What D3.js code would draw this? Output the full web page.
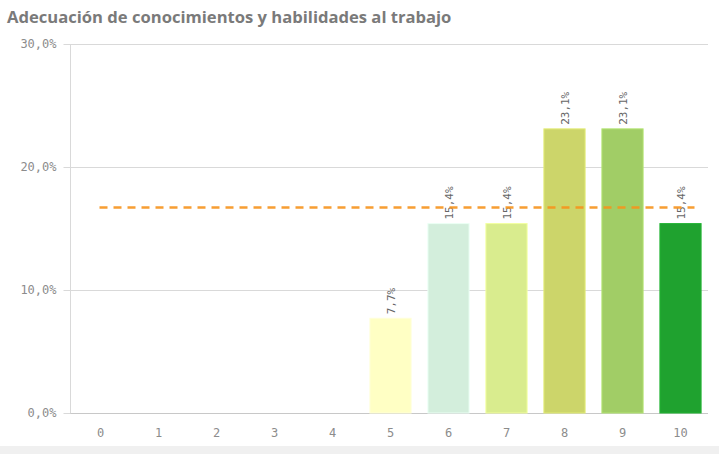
<!DOCTYPE html>
<html>
<head>
<meta charset="utf-8">
<script src="https://cdn.jsdelivr.net/npm/d3@7"></script>
<style>
  html, body { margin: 0; padding: 0; background: #fff; }
  svg { display: block; }
</style>
</head>
<body>
<svg id="chart" width="719" height="454"></svg>
<script>
const title = "Adecuación de conocimientos y habilidades al trabajo";
const categories = ["0", "1", "2", "3", "4", "5", "6", "7", "8", "9", "10"];
const values = [0, 0, 0, 0, 0, 7.7, 15.4, 15.4, 23.1, 23.1, 15.4];
const barColors = ["#ffffc4", "#ffffc4", "#ffffc4", "#ffffc4", "#ffffc4", "#ffffc4", "#d3eedc", "#d9ec8e", "#ccd56a", "#a1cd66", "#1fa22f"];
const yTicks = [0, 10, 20, 30];
const referenceValue = 16.7;

const svg = d3.select("#chart");
const W = 719, H = 454;
const fmt = v => d3.format(".1f")(v).replace(".", ",") + "%";
const monoFont = "'DejaVu Sans Mono', 'Liberation Mono', monospace";

// background bottom strip
svg.append("rect").attr("x", 0).attr("y", 446).attr("width", W).attr("height", 8).attr("fill", "#f0f0f0");

svg.append("text")
  .attr("x", 7).attr("y", 23)
  .attr("font-family", "'Open Sans', sans-serif")
  .attr("font-weight", "bold")
  .attr("font-size", 16.6)
  .attr("fill", "#7a7a7a")
  .text(title);

const x = d3.scaleBand().domain(categories).range([71.5, 709.5]).paddingInner(0.29).paddingOuter(0.145);
const y = d3.scaleLinear().domain([0, 30]).range([413, 44]);

// gridlines
svg.append("g").selectAll("line").data(yTicks).join("line")
  .attr("x1", 70).attr("x2", 708)
  .attr("y1", d => Math.round(y(d)) + 0.5).attr("y2", d => Math.round(y(d)) + 0.5)
  .attr("stroke", d => d === 0 ? "#c8c8c8" : "#d9d9d9").attr("stroke-width", 1);

// y axis
const yAxis = d3.axisLeft(y).tickValues(yTicks).tickFormat(fmt).tickSize(7).tickPadding(7);
const gy = svg.append("g").attr("transform", "translate(70.5,0)").call(yAxis);
gy.select(".domain").attr("stroke", "#d9d9d9").attr("d", "M0," + y(30) + "V" + y(0));
gy.selectAll(".tick line").attr("stroke", "#d9d9d9");
gy.selectAll(".tick text").attr("fill", "#8c8c8c").attr("font-family", monoFont).attr("font-size", 12);

// x axis labels
const xAxis = d3.axisBottom(x).tickSize(0).tickPadding(15);
const gx = svg.append("g").attr("transform", "translate(0,413)").call(xAxis);
gx.select(".domain").remove();
gx.selectAll(".tick text").attr("fill", "#8c8c8c").attr("font-family", monoFont).attr("font-size", 12);

// bars
const data = categories.map((c, i) => ({ c, v: values[i], col: barColors[i] }));
svg.append("g").selectAll("rect").data(data.filter(d => d.v > 0)).join("rect")
  .attr("x", d => x(d.c)).attr("width", x.bandwidth())
  .attr("y", d => y(d.v)).attr("height", d => y(0) - y(d.v))
  .attr("fill", d => d.col)
  .attr("stroke", d => d3.color(d.col).brighter(0.3)).attr("stroke-width", 1);

// value labels, rotated
svg.append("g").selectAll("text").data(data.filter(d => d.v > 0)).join("text")
  .attr("transform", d => `translate(${x(d.c) + x.bandwidth() / 2 + 4},${y(d.v) - 4}) rotate(-90)`)
  .attr("text-anchor", "start")
  .attr("font-family", monoFont)
  .attr("font-size", 11)
  .attr("fill", "#666")
  .text(d => d.v.toFixed(1).replace(".", ",") + "%");

// reference line
svg.append("line")
  .attr("x1", x("0") + x.bandwidth() / 2 - 1).attr("x2", x("10") + x.bandwidth() / 2 + 14)
  .attr("y1", y(referenceValue)).attr("y2", y(referenceValue))
  .attr("stroke", "#f7941d").attr("stroke-width", 2.5).attr("stroke-dasharray", "8,6")
  .attr("opacity", 0.9);
</script>
</body>
</html>
